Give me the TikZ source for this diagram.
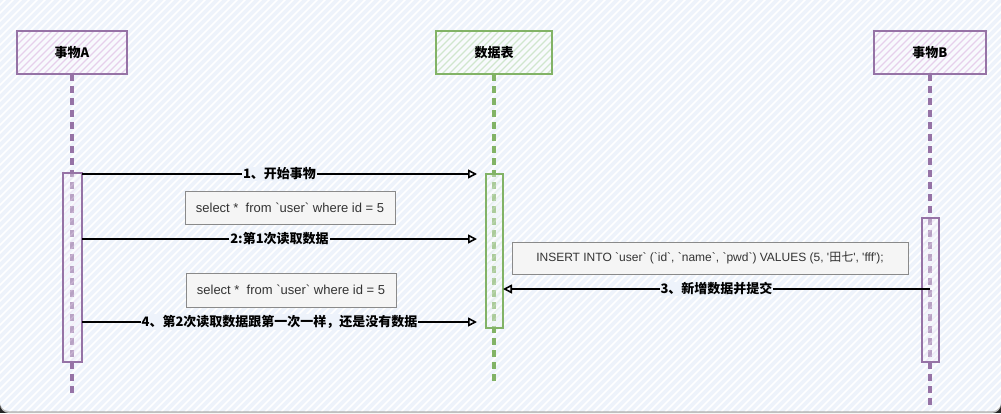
\documentclass[tikz,border=0pt]{standalone}
\usepackage{fontspec}
\setmainfont{Liberation Sans}
\newfontfamily\cjk{Noto Sans CJK SC}
\newfontfamily\sqlf{Liberation Sans}[Ligatures=TeXOff]
\usetikzlibrary{arrows.meta}
\definecolor{bgc}{HTML}{EEF3FB}
\definecolor{purp}{HTML}{9673A6}
\definecolor{purpl}{HTML}{E6D0EC}
\definecolor{grn}{HTML}{82B366}
\definecolor{grnl}{HTML}{D0E6CE}
\definecolor{sqlfill}{HTML}{F5F5F5}
\definecolor{sqldraw}{HTML}{8A8A8A}
\definecolor{sqltext}{HTML}{333333}
\newcommand\hatchrect[5]{%
  \begin{scope}
    \clip (#1,#2) rectangle (#3,#4);
    \fill[white!60!bgc] (#1,#2) rectangle (#3,#4);
    \pgfmathsetmacro\hs{#1-(#4-#2)}
    \pgfmathsetmacro\hn{\hs+7}
    \foreach \k in {\hs,\hn,...,#3}
      \draw[#5, line width=1.3pt] (\k,#4) -- ++({#4-#2},{#2-#4});
  \end{scope}}
\tikzset{
  actorbox/.style={draw=#1, line width=1.7pt, minimum height=43pt, inner sep=0pt,
    font=\cjk\bfseries\fontsize{13}{15}\selectfont},
  actbox/.style={draw=#1, line width=1.3pt, inner sep=0pt},
  life/.style={draw=#1, line width=3.2pt, dash pattern=on 7pt off 5pt},
  sqlbox/.style={draw=sqldraw, fill=sqlfill, line width=1pt, inner sep=0pt,
    text=sqltext, font=\sqlf\fontsize{13}{15}\selectfont},
  msg/.style={draw=black, line width=1.6pt,
    -{Triangle[open, length=9pt, width=9pt, line width=1.6pt]}},
  msglabel/.style={fill=bgc, inner sep=1pt, text=black,
    font=\cjk\bfseries\fontsize{13}{15}\selectfont}
}
\begin{document}
\begin{tikzpicture}[x=1pt, y=-1pt]
\useasboundingbox (0,0) rectangle (1001,413);
% background
\fill[black!85] (0,0) rectangle (1001,413);
\fill[black!25, rounded corners=9pt] (0,-30) rectangle (1001,413);
\fill[bgc, rounded corners=9pt] (0,-30) rectangle (1001,411);
\begin{scope}
  \clip[rounded corners=9pt] (0,-30) rectangle (1001,411);
  \foreach \k in {-440,-432,...,1001}
    \draw[white, line width=1.6pt] (\k,413) -- ++(443,-443);
\end{scope}
% lifelines
\coordinate (Aend) at (72,395);
\coordinate (Dend) at (494,383);
\coordinate (Bend) at (930,405);
\coordinate (Atop) at (72,74);
\coordinate (Dtop) at (494,74);
\coordinate (Btop) at (930,74);
\draw[life=purp] (Atop) -- (Aend);
\draw[life=grn] (Dtop) -- (Dend);
\draw[life=purp] (Btop) -- (Bend);
% actor boxes
\hatchrect{17}{31}{127}{74}{purpl}
\hatchrect{436}{31}{552}{74}{grnl}
\hatchrect{874}{31}{986}{74}{purpl}
\node[actorbox=purp, minimum width=110pt] (A) at (72,52.5) {事物A};
\node[actorbox=grn, minimum width=116pt] (D) at (494,52.5) {数据表};
\node[actorbox=purp, minimum width=112pt] (B) at (930,52.5) {事物B};
% activation boxes
\begin{scope}[opacity=0.35]
\hatchrect{63}{173}{82}{362}{purpl}
\hatchrect{486}{174}{503}{328}{grnl}
\hatchrect{922}{218}{939}{362}{purpl}
\end{scope}
\node[actbox=purp, minimum width=19pt, minimum height=189pt] (actA) at (72.5,267.5) {};
\node[actbox=grn, minimum width=17pt, minimum height=154pt] (actD) at (494.5,251) {};
\node[actbox=purp, minimum width=17pt, minimum height=144pt] (actB) at (930.5,290) {};
% SQL boxes
\node[sqlbox, minimum width=210pt, minimum height=33pt] (q1) at (290,207.5)
  {select *~ from `user` where id = 5};
\node[sqlbox, minimum width=210pt, minimum height=34pt] (q2) at (291,290)
  {select *~ from `user` where id = 5};
\node[sqlbox, minimum width=396pt, minimum height=32pt, font=\sqlf\fontsize{12}{15}\selectfont] (ins) at (710,258)
  {INSERT INTO `user` (`id`, `name`, `pwd`) VALUES (5, '{\cjk 田七}', 'fff');};
% messages
\coordinate (m1s) at (82,174);  \coordinate (m1e) at (477,174);
\coordinate (m2s) at (82,239);  \coordinate (m2e) at (477,239);
\coordinate (m3s) at (930,289); \coordinate (m3e) at (503,289);
\coordinate (m4s) at (82,322);  \coordinate (m4e) at (477,322);
\draw[msg] (m1s) -- node[msglabel] (l1) {1、开始事物} (m1e);
\draw[msg] (m2s) -- node[msglabel] (l2) {2:第1次读取数据} (m2e);
\draw[msg] (m3s) -- node[msglabel] (l3) {3、新增数据并提交} (m3e);
\draw[msg] (m4s) -- node[msglabel] (l4) {4、第2次读取数据跟第一次一样，还是没有数据} (m4e);
\end{tikzpicture}
\end{document}
